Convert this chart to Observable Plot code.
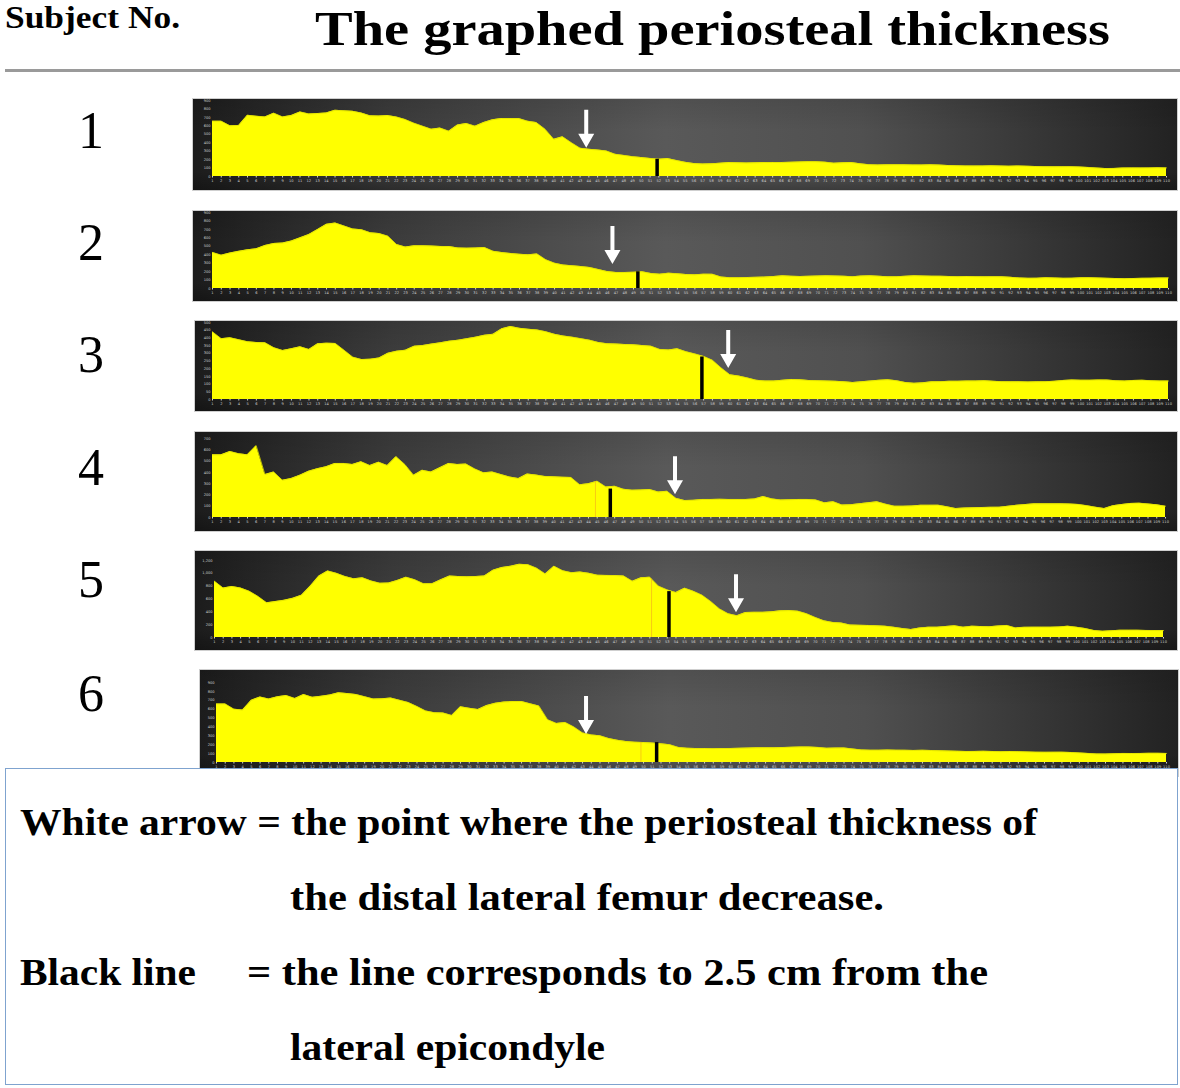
<!DOCTYPE html>
<html><head><meta charset="utf-8">
<script src="https://cdn.jsdelivr.net/npm/d3@7"></script>
<script src="https://cdn.jsdelivr.net/npm/@observablehq/plot@0.6"></script>
<style>
body{margin:0;background:#fff;}
#root{position:relative;width:1180px;height:1088px;overflow:hidden;background:#fff;}
.panel{position:absolute;outline:1px solid #cfcfcf;
 background:linear-gradient(to bottom, rgba(0,0,0,0.10), rgba(0,0,0,0) 35%, rgba(0,0,0,0) 80%, rgba(0,0,0,0.28)),
 linear-gradient(to right,#1c1c1c 0%,#3c3c3c 20%,#595959 48%,#505050 68%,#222 100%);}
.panel svg{display:block;}
#box{position:absolute;left:5px;top:768px;width:1173px;height:317px;box-sizing:border-box;border:1px solid #7fa3cf;background:#fff;}
svg text.serif{font-family:"Liberation Serif","Times New Roman",serif;}
</style></head>
<body><div id="root"></div>
<script>
// ---- data ----
const subjectNos = ["1","2","3","4","5","6"];
const xTicks = d3.range(1, 111);
const subject1 = [
655,655,600,605,725,714,706,750,706,721,
765,741,745,753,784,778,772,752,718,716,
721,705,675,632,596,560,573,537,610,628,
596,640,672,686,686,686,655,638,560,440,
470,400,335,322,314,302,263,250,235,224,
214,205,212,190,168,153,148,150,158,165,
163,160,162,165,166,165,168,172,176,175,
170,158,162,165,150,140,137,138,140,138,
137,136,138,135,130,127,125,124,125,126,
124,122,125,122,118,116,114,115,116,113,
108,100,94,96,100,102,101,102,103,102];
const subject2 = [
427,395,420,440,458,470,510,534,538,562,
600,640,700,760,775,740,704,696,660,650,
620,520,490,506,506,502,498,496,480,478,
480,486,440,425,415,405,399,410,340,300,
277,270,260,249,225,200,190,190,192,198,
178,170,182,175,165,162,170,168,135,128,
128,130,132,135,142,150,145,142,145,148,
150,148,145,140,148,150,145,138,140,145,
150,148,146,145,142,140,142,140,138,140,
138,132,125,120,122,128,125,120,122,126,
128,124,120,118,115,118,120,122,124,125];
const subject3 = [
439,395,401,388,375,370,368,336,318,330,
342,325,362,366,364,320,275,259,262,270,
300,314,320,346,351,360,368,379,385,395,
405,417,423,460,474,462,456,452,440,423,
412,405,395,385,370,362,360,357,355,350,
346,325,322,329,310,296,280,255,205,160,
152,140,125,120,120,125,130,128,123,122,
120,118,115,110,115,120,125,128,122,110,
105,108,115,116,118,118,120,120,122,118,
116,115,115,114,115,116,118,124,127,125,
125,127,126,122,120,124,125,122,120,120];
const subject4 = [
555,555,585,565,555,636,380,403,330,345,
375,410,433,450,479,479,470,494,460,490,
460,539,470,375,418,403,440,479,470,473,
430,396,403,380,358,345,385,376,364,360,
357,355,290,300,321,270,276,250,242,244,
248,225,232,170,150,152,160,160,161,160,
160,160,165,185,165,155,157,160,160,155,
130,140,110,113,122,130,139,118,100,100,
102,108,108,109,95,79,84,86,88,90,
91,100,109,115,121,121,121,121,120,116,
105,91,79,105,115,125,127,120,112,100];
const subject5 = [
876,770,796,770,720,640,540,560,580,610,
660,800,957,1038,1000,950,914,930,880,845,
849,890,940,900,839,839,900,957,950,946,
950,960,1050,1090,1110,1140,1135,1080,990,1110,
1040,1011,1020,1000,970,968,965,957,876,930,
940,800,742,700,769,720,660,560,446,370,
339,390,392,392,400,415,419,410,370,312,
260,235,225,194,190,188,182,177,160,140,
124,150,161,161,172,183,161,177,170,167,
180,188,150,158,161,161,161,165,177,160,
140,110,97,105,113,113,113,110,108,108];
const subject6 = [
659,659,600,590,700,737,714,740,753,720,
765,733,745,760,784,775,765,740,714,716,
725,700,675,630,580,560,557,529,627,610,
596,640,667,680,686,686,660,635,480,440,
451,400,333,310,300,270,250,235,228,224,
218,210,200,170,160,157,157,156,157,158,
160,162,165,166,165,168,172,175,174,170,
160,162,164,152,142,138,138,140,138,137,
136,137,135,131,128,126,124,125,126,124,
122,124,122,119,116,114,115,116,113,108,
102,96,95,99,102,101,102,103,103,102];
const subjects = [subject1, subject2, subject3, subject4, subject5, subject6];
const yMax = [900, 900, 500, 700, 1200, 900];
const yTicks = [d3.range(0,901,100), d3.range(0,901,100), d3.range(0,501,50), d3.range(0,701,100), d3.range(0,1201,200), d3.range(0,901,100)];
const arrowAt = [43.7, 46.6, 59.8, 53.9, 60.9, 43.4];      // white arrow position (sample index)
const arrowTip = [341, 289, 204, 206, 392, 322];          // value where the arrow tip points
const blackLineAt = [51.8, 49.5, 56.8, 46.5, 53.2, 51.5]; // 2.5 cm line position
const blackLineTop = [204, 198, 276, 252, 715, 224];
const orangeAt = [null, null, null, 44.8, 51.2, 49.7];

// ---- layout ----
const geom = [
 {left:193, top:99,  w:984, h:91,  mt:1,  mb:14, ml:19, mr:11, label:148},
 {left:193, top:211, w:984, h:90,  mt:1,  mb:13, ml:19, mr:9,  label:260},
 {left:195, top:321, w:982, h:90,  mt:1,  mb:12, ml:17, mr:9,  label:372},
 {left:195, top:432, w:982, h:99,  mt:6,  mb:14, ml:17, mr:12, label:485},
 {left:195, top:551, w:982, h:99,  mt:9,  mb:13, ml:19, mr:14, label:597},
 {left:200, top:670, w:978, h:106, mt:12, mb:14, ml:16, mr:12, label:711}
];

const root = document.getElementById("root");
const NS = "http://www.w3.org/2000/svg";
function svgText(svg, x, y, str, size, weight, anchor, len) {
  const t = document.createElementNS(NS, "text");
  t.setAttribute("class","serif");
  t.setAttribute("x", x); t.setAttribute("y", y);
  t.setAttribute("font-size", size);
  t.setAttribute("font-weight", weight);
  t.setAttribute("fill", "#000");
  if (anchor) t.setAttribute("text-anchor", anchor);
  if (len) { t.setAttribute("textLength", len); t.setAttribute("lengthAdjust", "spacingAndGlyphs"); }
  t.textContent = str;
  svg.appendChild(t);
  return t;
}

// header + subject numbers
const bg = document.createElementNS(NS, "svg");
bg.setAttribute("width", 1180); bg.setAttribute("height", 1088);
bg.style.position = "absolute"; bg.style.left = "0"; bg.style.top = "0";
root.appendChild(bg);
svgText(bg, 5, 28, "Subject No.", 31, "bold", null, 175);
svgText(bg, 315, 45, "The graphed periosteal thickness", 49, "bold", null, 795);
const rule = document.createElementNS(NS, "rect");
rule.setAttribute("x", 5); rule.setAttribute("y", 69); rule.setAttribute("width", 1175); rule.setAttribute("height", 3);
rule.setAttribute("fill", "#9a9a9a");
bg.appendChild(rule);
subjectNos.forEach((s, k) => svgText(bg, 91, geom[k].label, s, 52, "normal", "middle"));

const arrowShape = {
  draw(ctx, l) {
    const hw = 8, sw = 2, hl = 14;
    ctx.moveTo(-sw, 0); ctx.lineTo(-sw, -(l - hl)); ctx.lineTo(-hw, -(l - hl));
    ctx.lineTo(0, -l); ctx.lineTo(hw, -(l - hl)); ctx.lineTo(sw, -(l - hl)); ctx.lineTo(sw, 0);
    ctx.closePath();
  }
};

function valueAt(vals, x) {
  const i = Math.floor(x) - 1, f = x - Math.floor(x);
  const a = vals[i], b = vals[Math.min(i + 1, vals.length - 1)];
  return a + (b - a) * f;
}

subjects.forEach((vals, k) => {
  const g = geom[k];
  const data = vals.map((v, i) => ({i: i + 1, v}));
  const marks = [
    Plot.areaY(data, {x: "i", y: "v", fill: "#ffff00"}),
    Plot.lineY(data, {x: "i", y: "v", stroke: "#e0e000", strokeWidth: 0.8})
  ];
  if (orangeAt[k] != null) {
    marks.push(Plot.ruleX([{x: orangeAt[k], y1: 0, y2: valueAt(vals, orangeAt[k])}],
      {x: "x", y1: "y1", y2: "y2", stroke: "#f0a020", strokeWidth: 1, strokeOpacity: 0.55}));
  }
  marks.push(Plot.ruleX([{x: blackLineAt[k], y1: 0, y2: blackLineTop[k]}],
    {x: "x", y1: "y1", y2: "y2", stroke: "#000", strokeWidth: 3.5}));
  marks.push(Plot.vector([{x: arrowAt[k], y: arrowTip[k]}],
    {x: "x", y: "y", length: 38, rotate: 180, anchor: "end", shape: arrowShape, fill: "#fff", stroke: "none"}));
  const chart = Plot.plot({
    width: g.w, height: g.h,
    marginTop: g.mt, marginBottom: g.mb, marginLeft: g.ml, marginRight: g.mr,
    x: {domain: [1, 110], ticks: xTicks, tickFormat: d => String(d), tickSize: 1.5, tickPadding: 1.5, label: null},
    y: {domain: [0, yMax[k]], ticks: yTicks[k], tickSize: 0, tickPadding: 2, label: null},
    style: "background:transparent;color:#cfcfcf;font-size:3.6px;font-family:'DejaVu Sans',sans-serif;overflow:visible;max-width:none;",
    marks
  });
  const div = document.createElement("div");
  div.className = "panel";
  div.style.left = g.left + "px"; div.style.top = g.top + "px";
  div.style.width = g.w + "px"; div.style.height = g.h + "px";
  div.appendChild(chart);
  root.appendChild(div);
});

// legend box
const box = document.createElement("div");
box.id = "box";
root.appendChild(box);
const bs = document.createElementNS(NS, "svg");
bs.setAttribute("width", 1173); bs.setAttribute("height", 317);
bs.style.position = "absolute"; bs.style.left = "-1px"; bs.style.top = "-1px";
box.appendChild(bs);
// coordinates relative to box (box at 5,768)
svgText(bs, 15, 67, "White arrow = the point where the periosteal thickness of", 37, "bold", null, 1017);
svgText(bs, 285, 142, "the  distal lateral femur decrease.", 37, "bold", null, 594);
svgText(bs, 15, 217, "Black line", 37, "bold", null, 176);
svgText(bs, 242, 217, "=  the line corresponds to 2.5 cm from the", 37, "bold", null, 741);
svgText(bs, 285, 292, "lateral epicondyle", 37, "bold", null, 315);
</script>
</body></html>
